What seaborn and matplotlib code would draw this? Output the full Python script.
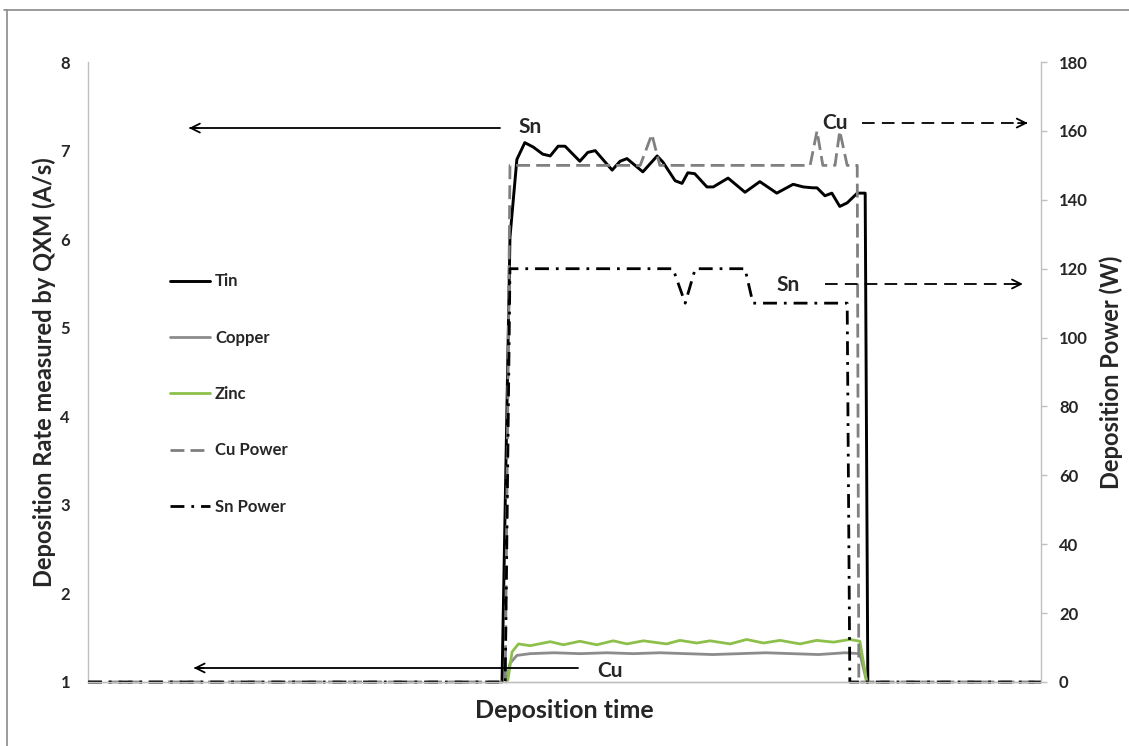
import matplotlib
matplotlib.use("Agg")
import matplotlib.pyplot as plt
from matplotlib.lines import Line2D
import seaborn as sns

# ---------------- data ----------------
# Deposition rate (A/s), left axis
tin_t = [78.2, 79.7, 81.0, 82.5, 84.1, 85.9, 87.3, 88.8, 90.1, 92.9, 94.4, 95.8, 99.0, 100.5,
         101.8, 104.8, 107.5, 108.6, 110.9, 112.2, 113.3, 114.6, 116.9, 118.1, 120.9, 124.1,
         126.9, 130.1, 133.2, 135.1, 136.9, 137.7, 139.2, 140.5, 142.0, 143.4, 145.3, 146.8, 147.3]
tin_v = [1.0, 6.02, 6.9, 7.09, 7.04, 6.96, 6.94, 7.05, 7.05, 6.88, 6.98, 7.0, 6.78, 6.88,
         6.91, 6.76, 6.94, 6.87, 6.66, 6.63, 6.75, 6.74, 6.59, 6.59, 6.69, 6.53,
         6.65, 6.52, 6.62, 6.59, 6.58, 6.58, 6.49, 6.52, 6.37, 6.41, 6.52, 6.52, 1.0]

copper_t = [79.0, 79.7, 81.0, 83.5, 88, 93, 98, 103, 108, 113, 118, 123, 128, 133, 138, 143, 145.8, 147.1]
copper_v = [1.0, 1.21, 1.30, 1.32, 1.33, 1.32, 1.33, 1.32, 1.33, 1.32, 1.31, 1.32, 1.33, 1.32, 1.31, 1.33, 1.32, 1.0]

zinc_t = [79.3, 80.1, 81.3, 83.5, 87.3, 89.8, 92.9, 96.1, 99.2, 101.8, 104.9, 109.3, 111.8, 115.0,
          117.5, 121.3, 124.4, 127.6, 130.7, 134.5, 137.6, 140.8, 143.9, 145.8, 147.1]
zinc_v = [1.02, 1.34, 1.43, 1.41, 1.455, 1.42, 1.46, 1.42, 1.465, 1.43, 1.465, 1.43, 1.47, 1.44,
          1.465, 1.43, 1.48, 1.44, 1.47, 1.43, 1.47, 1.45, 1.48, 1.46, 1.0]

# Deposition power (W), right axis
cu_pow_t = [0, 78.8, 79.7, 104.3, 106.5, 108.0, 136.4, 137.7, 138.8, 141.1, 142.0, 143.4, 145.3, 145.6, 180]
cu_pow_v = [0, 0, 150, 150, 159, 150, 150, 160, 150, 150, 160, 150, 150, 0, 0]

sn_pow_t = [0, 78.8, 79.7, 110.5, 112.8, 114.7, 124.1, 125.6, 143.4, 143.9, 180]
sn_pow_v = [0, 0, 120, 120, 110, 120, 120, 110, 110, 0, 0]

left_ticks = [1, 2, 3, 4, 5, 6, 7, 8]
right_ticks = [0, 20, 40, 60, 80, 100, 120, 140, 160, 180]
legend_labels = ["Tin", "Copper", "Zinc", "Cu Power", "Sn Power"]

# ---------------- style ----------------
sns.set_theme(style="white")
plt.rcParams['font.family'] = ['Lato', 'DejaVu Sans']
plt.rcParams['font.weight'] = 'bold'

C_TIN = "#000000"
C_CU = "#8c8c8c"
C_ZN = "#8dc04a"
C_CUP = "#808080"
C_SNP = "#000000"
CU_DASH = (0, (5, 2.2))
SN_DASH = (0, (5, 2.5, 1, 2.5))
SPINE = "#c0c0c0"
LW = 2.0

fig = plt.figure(figsize=(11.29, 7.46), dpi=100)
ax = fig.add_axes([0.078, 0.0858, 0.844, 0.831])
ax2 = ax.twinx()

sns.lineplot(x=tin_t, y=tin_v, ax=ax, color=C_TIN, lw=2.1, sort=False, estimator=None, legend=False)
sns.lineplot(x=copper_t, y=copper_v, ax=ax, color=C_CU, lw=LW, sort=False, estimator=None, legend=False)
sns.lineplot(x=zinc_t, y=zinc_v, ax=ax, color=C_ZN, lw=LW, sort=False, estimator=None, legend=False)

sns.lineplot(x=cu_pow_t, y=cu_pow_v, ax=ax2, color=C_CUP, lw=LW, linestyle=CU_DASH,
             sort=False, estimator=None, legend=False)
sns.lineplot(x=sn_pow_t, y=sn_pow_v, ax=ax2, color=C_SNP, lw=LW, linestyle=SN_DASH,
             sort=False, estimator=None, legend=False)
for a in (ax, ax2):
    for ln in a.get_lines():
        ln.set_clip_on(False)

ax.set_xlim(0, 180)
ax.set_ylim(1, 8)
ax2.set_ylim(0, 180)
ax.set_xticks([])
ax.set_yticks(left_ticks)
ax2.set_yticks(right_ticks)

for a in (ax, ax2):
    for s in a.spines.values():
        s.set_color(SPINE)
        s.set_linewidth(1.0)
    a.spines['top'].set_visible(False)
    a.grid(False)
ax2.spines['left'].set_visible(False)
ax.spines['right'].set_visible(False)

ax.tick_params(axis='y', length=0, pad=13, labelsize=12)
ax2.tick_params(axis='y', length=4, width=1, color=SPINE, pad=9, labelsize=12, right=True)
for lab in ax.get_yticklabels() + ax2.get_yticklabels():
    lab.set_fontweight('bold')

ax.set_ylabel("Deposition Rate measured by QXM (A/s)", fontsize=17, fontweight='bold', labelpad=3)
ax2.set_ylabel("Deposition Power (W)", fontsize=17, fontweight='bold', labelpad=8)
ax.set_xlabel("Deposition time", fontsize=18, fontweight='bold', labelpad=12)

# annotations (axes fraction coordinates)
def arrow(a, x0, x1, y, dashed):
    ls = (0, (7, 4)) if dashed else '-'
    a.plot([x0, x1], [y, y], transform=a.transAxes, color='black', lw=1.3, linestyle=ls, clip_on=False)
    d = -0.004 if x1 < x0 else 0.004
    a.annotate("", xy=(x1 + d, y), xytext=(x1 - 3 * d, y), xycoords='axes fraction',
               textcoords='axes fraction',
               arrowprops=dict(arrowstyle='->', lw=1.3, color='black', mutation_scale=16))

arrow(ax2, 0.432, 0.107, 0.8935, False)
ax2.text(0.464, 0.895, "Sn", transform=ax2.transAxes, fontsize=15, fontweight='bold',
         ha='center', va='center')
arrow(ax2, 0.812, 0.985, 0.9016, True)
ax2.text(0.784, 0.902, "Cu", transform=ax2.transAxes, fontsize=15, fontweight='bold',
         ha='center', va='center')
arrow(ax2, 0.773, 0.980, 0.642, True)
ax2.text(0.735, 0.640, "Sn", transform=ax2.transAxes, fontsize=15, fontweight='bold',
         ha='center', va='center')
arrow(ax2, 0.514, 0.112, 0.0226, False)
ax2.text(0.548, 0.017, "Cu", transform=ax2.transAxes, fontsize=15, fontweight='bold',
         ha='center', va='center')

handles = [
    Line2D([], [], color=C_TIN, lw=2.1),
    Line2D([], [], color=C_CU, lw=LW),
    Line2D([], [], color=C_ZN, lw=LW),
    Line2D([], [], color=C_CUP, lw=LW, linestyle=CU_DASH),
    Line2D([], [], color=C_SNP, lw=LW, linestyle=SN_DASH),
]
leg = ax2.legend(handles, legend_labels, loc='upper left', bbox_to_anchor=(0.086, 0.659),
                 frameon=False, fontsize=12, labelspacing=2.42, handlelength=2.4,
                 handletextpad=0.3, borderpad=0, borderaxespad=0)
for t in leg.get_texts():
    t.set_fontweight('bold')

# outer frame (top and left edges)
fig.add_artist(Line2D([4 / 1129, 1], [1 - 10 / 746, 1 - 10 / 746], transform=fig.transFigure,
                      color='#8a8a8a', lw=1.2))
fig.add_artist(Line2D([7 / 1129, 7 / 1129], [0, 1 - 10 / 746], transform=fig.transFigure,
                      color='#8a8a8a', lw=1.2))

fig.savefig("out.png", dpi=100)
